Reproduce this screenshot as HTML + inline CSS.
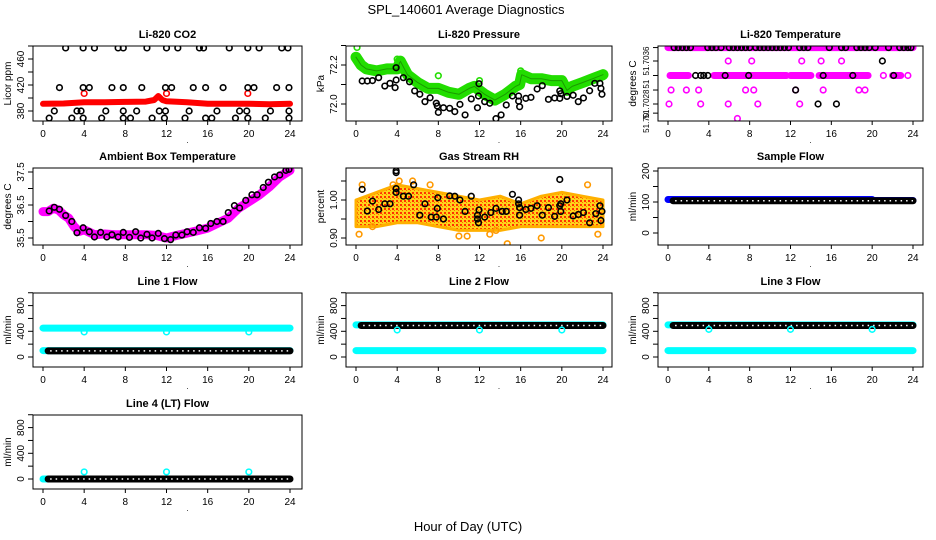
<!DOCTYPE html>
<html><head><meta charset="utf-8">
<style>
html,body{margin:0;padding:0;background:#fff;}
svg{display:block;font-family:"Liberation Sans",Arial,sans-serif;}
</style></head>
<body>
<svg id="chart" width="936" height="540" viewBox="0 0 936 540" xmlns="http://www.w3.org/2000/svg">
<defs>
<pattern id="rhpat" width="4" height="4" patternUnits="userSpaceOnUse">
<rect width="4" height="4" fill="#ffd21a"/><rect x="0" y="0" width="2" height="2" fill="#ff3300"/><rect x="2" y="2" width="1" height="1" fill="#ff6a00"/>
</pattern>
</defs>
<text x="466" y="14" font-size="13" text-anchor="middle">SPL_140601  Average Diagnostics</text>
<text x="468" y="531" font-size="13" text-anchor="middle">Hour of Day (UTC)</text>
</svg>
<script>
// ---------- data ----------
const xTicks = [0,4,8,12,16,20,24];
// CO2
const co2TopHours = [2.2,3.9,5.0,7.3,7.8,10.1,12.0,13.1,15.2,15.6,18.1,19.9,21.0,23.2,23.8];
const co2TopValue = 477;
const co2MidHours = [1.6,3.9,4.5,6.7,7.8,9.6,11.9,12.5,14.6,15.8,17.5,19.9,20.5,22.7,23.9];
const co2MidValue = 416;
const co2LowHours = [1.1,3.3,3.7,6.1,7.8,9.1,11.3,11.9,14.2,16.9,19.1,19.8,22.1,23.9];
const co2LowValue = 380;
const co2BotHours = [0.6,2.8,3.9,5.7,7.8,8.5,10.6,11.8,13.8,15.8,16.4,18.7,19.9,21.6,23.9];
const co2BotValue = 369;
const co2RedHours = [0,2,4,6,8,10,10.8,11.2,11.6,12,14,16,18,20,22,24];
const co2RedValues = [391,391.5,393.5,393.5,394,394.5,397,403,397,395,393.5,391,391,391,390.5,391];
const co2RedOutHours = [4.0,12.0,19.9];
const co2RedOutValues = [407,407,407];
// Pressure
const presGreenHours = [0,0.5,1,2,3,4,4.3,5,6,7,8,9,10,11,11.5,12,12.5,13.5,14.5,15.5,15.9,16.1,17,18,19,20,20.5,21,22,23,24];
const presGreenValues = [72.24,72.2,72.18,72.17,72.18,72.18,72.22,72.15,72.11,72.08,72.08,72.06,72.05,72.08,72.09,72.07,72.05,72.02,72.05,72.09,72.1,72.15,72.13,72.13,72.12,72.12,72.07,72.09,72.11,72.13,72.15];
const presGreenOutHours = [0.1,4.0,8.0,12.0,16.0];
const presGreenOutValues = [72.29,72.23,72.145,72.12,72.17];
const presBlackHours = [0.6,1.1,1.6,2.2,2.8,3.3,3.8,3.9,3.9,4.6,5.2,5.7,6.2,6.7,7.2,7.8,7.9,8.0,8.5,9.1,9.6,10.1,10.6,11.2,11.8,11.9,11.95,12.5,13.0,13.6,14.1,14.6,15.2,15.8,15.8,15.9,16.5,17.0,17.6,18.1,18.7,19.3,19.8,19.8,19.9,20.5,21.1,21.6,22.1,22.7,23.2,23.7,23.8,23.9];
const presBlackValues = [72.118,72.118,72.12,72.135,72.092,72.106,72.084,72.123,72.186,72.135,72.114,72.067,72.05,72.012,72.032,72.004,71.99,71.957,71.981,71.978,71.961,71.998,71.944,72.026,71.981,72.041,72.104,72.012,72.004,71.925,71.944,71.995,72.041,72.041,72.015,71.986,72.029,72.034,72.077,72.094,72.024,72.031,72.029,72.067,72.053,72.039,72.045,72.012,72.031,72.068,72.106,72.106,72.08,72.05];
// Li-820 temperature
const tempMagDenseStart = [0,0.2,4.5,12.0,14.8,22.0];
const tempMagDenseEnd   = [24,2.0,11.6,14.0,19.6,22.8];
const tempMagDenseValue = [51.70385,51.70333,51.70333,51.70333,51.70333,51.70333];
const tempMagHours = [5.9,8.2,13.1,15.0,17.0, 0.3,1.8,3.0,7.6,8.4,12.5,15.2,18.7,19.3, 0.1,3.2,5.9,8.8,12.9, 6.8, 21.1,23.5];
const tempMagValues = [51.7036,51.7036,51.7036,51.7036,51.7036, 51.70306,51.70306,51.70306,51.70306,51.70306,51.70306,51.70306,51.70306,51.70306, 51.7028,51.7028,51.7028,51.7028,51.7028, 51.70253, 51.70333,51.70333];
const tempBlackHours = [0.6,1.0,1.4,1.8,2.2,3.9,4.3,4.7,5.2,6.0,6.4,6.8,7.2,7.6,8.0,8.6,9.0,9.4,9.8,10.2,10.6,11.0,11.4,11.8,12.9,13.3,13.7,15.8,17.0,17.4,18.5,18.9,19.3,19.7,20.3,21.6,22.7,23.1,23.5,23.8, 2.7,3.2,3.5,3.9,5.6,7.9,15.2,18.1,22.1, 21.0, 12.5, 14.7,16.5];
const tempBlackValues = [51.70385,51.70385,51.70385,51.70385,51.70385,51.70385,51.70385,51.70385,51.70385,51.70385,51.70385,51.70385,51.70385,51.70385,51.70385,51.70385,51.70385,51.70385,51.70385,51.70385,51.70385,51.70385,51.70385,51.70385,51.70385,51.70385,51.70385,51.70385,51.70385,51.70385,51.70385,51.70385,51.70385,51.70385,51.70385,51.70385,51.70385,51.70385,51.70385,51.70385, 51.70333,51.70333,51.70333,51.70333,51.70333,51.70333,51.70333,51.70333,51.70333, 51.7036, 51.70306, 51.7028,51.7028];
// Ambient box temperature
const ambMagHours = [0,0.5,1,1.5,2,2.5,3,3.5,4,5,6,7,8,9,10,11,12,13,14,15,16,17,18,19,20,21,22,23,24];
const ambMagValues = [36.3,36.3,36.4,36.35,36.2,36.1,35.85,35.7,35.75,35.6,35.62,35.6,35.6,35.6,35.6,35.58,35.5,35.58,35.65,35.72,35.8,35.95,36.1,36.4,36.6,36.8,37.05,37.35,37.55];
const ambBlackHours = [0.6,1.1,1.6,2.2,2.8,3.3,3.9,4.5,5.0,5.6,6.2,6.7,7.3,7.8,8.4,9.0,9.5,10.1,10.6,11.2,11.8,12.4,12.9,13.5,14.0,14.6,15.2,15.8,16.3,16.9,17.5,18.0,18.6,19.1,19.7,20.3,20.8,21.4,21.9,22.5,23.0,23.6,23.9];
const ambBlackValues = [36.32,36.43,36.37,36.18,36.0,35.66,35.81,35.69,35.53,35.67,35.53,35.6,35.53,35.67,35.52,35.69,35.5,35.61,35.5,35.64,35.48,35.45,35.59,35.59,35.69,35.67,35.81,35.79,35.94,36.0,36.0,36.27,36.48,36.41,36.64,36.81,36.81,37.03,37.19,37.35,37.41,37.55,37.58];
// Gas stream RH
const rhBandHours = [0,2,4,6,8,10,12,14,16,18,20,22,24];
const rhBandUpper = [1.0,1.02,1.04,1.03,1.02,1.01,1.0,1.01,0.99,1.01,1.02,1.01,1.0];
const rhBandLower = [0.93,0.93,0.94,0.94,0.93,0.92,0.92,0.92,0.93,0.93,0.93,0.93,0.93];
const rhOrangeHours = [0.3,0.6,1.6,3.6,4.2,5.5,7.2,10.0,10.8,13.0,13.6,14.7,18.0,22.5,23.5];
const rhOrangeValues = [0.91,1.04,0.93,1.04,1.05,1.05,1.04,0.905,0.905,0.91,0.92,0.885,0.90,1.04,0.91];
const rhBlackHours = [0.6,1.1,1.6,2.2,2.8,3.3,3.9,3.9,3.9,3.9,4.6,5.1,5.6,6.2,6.7,7.3,7.8,7.9,7.95,8.5,9.1,9.6,10.1,10.6,11.2,11.8,11.8,11.9,11.95,12.5,13.1,13.6,14.2,14.6,15.2,15.8,15.8,15.9,15.9,16.5,17.0,17.6,18.1,18.7,19.3,19.8,19.8,19.9,19.9,20.5,21.1,21.6,22.1,22.7,23.3,23.7,23.8,23.9];
const rhBlackValues = [1.028,0.971,0.997,0.975,0.99,0.99,1.077,1.072,1.03,1.02,1.01,1.01,1.04,0.96,0.99,0.955,0.955,0.978,1.006,0.95,1.011,1.01,1.0,0.97,1.01,0.96,0.95,0.94,0.974,0.955,0.967,0.978,0.97,0.97,1.015,1.0,0.99,0.98,0.96,0.975,0.978,0.985,0.96,0.98,0.957,1.054,0.985,0.99,0.97,1.0,0.958,0.962,0.967,0.94,0.964,0.985,0.946,0.97];
// Sample flow
const sfBlueStart = [0], sfBlueEnd = [20], sfBlueValue = [108];
const sfBlue2Start = [20], sfBlue2End = [24], sfBlue2Value = [105];
const sfBlackStart = [0.5], sfBlackEnd = [24], sfBlackValue = [104];
// Line flows
const l1CyanStart = [0,0], l1CyanEnd = [24,24], l1CyanValue = [450,100];
const l1BlackStart = [0.5], l1BlackEnd = [24], l1BlackValue = [95];
const l1OutHours = [4,12,20], l1OutValues = [390,390,390];
const l2CyanStart = [0,0], l2CyanEnd = [24,24], l2CyanValue = [500,100];
const l2BlackStart = [0.5], l2BlackEnd = [24], l2BlackValue = [490];
const l2OutHours = [4,12,20], l2OutValues = [420,420,420];
const l3CyanStart = [0,0], l3CyanEnd = [24,24], l3CyanValue = [500,100];
const l3BlackStart = [0.5], l3BlackEnd = [24], l3BlackValue = [490];
const l3OutHours = [4,12,20], l3OutValues = [430,430,430];
const l4CyanStart = [0], l4CyanEnd = [0.5], l4CyanValue = [0];
const l4BlackStart = [0.5], l4BlackEnd = [24], l4BlackValue = [0];
const l4OutHours = [4,12,20], l4OutValues = [110,110,110];

// ---------- drawing ----------
const NS = 'http://www.w3.org/2000/svg';
const svg = document.getElementById('chart');
function mk(tag, attrs, parent, name) {
  const el = document.createElementNS(NS, tag);
  for (const k in attrs) el.setAttribute(k, attrs[k]);
  
  
  (parent || svg).appendChild(el);
  return el;
}
const cols = [{l:33,r:302,x0:43,x24:290},{l:346,r:612,x0:356,x24:603},{l:658,r:923,x0:668,x24:913}];
const rows = [{t:46,b:121},{t:168,b:245},{t:293,b:367},{t:415,b:489}];

function panel(key, c, r, title, ylab, v0, p0, v1, p1, yTickVals, yLabVals, yLabs, labFont) {
  const C = cols[c], R = rows[r];
  const g = mk('g', {}, svg, key + '-panel');
  const sx = h => C.x0 + (C.x24 - C.x0) * h / 24;
  const sy = v => p0 + (p1 - p0) * (v - v0) / (v1 - v0);
  const clip = mk('clipPath', {id: 'clip-' + key}, g, key + '-clip');
  mk('rect', {x: C.l, y: R.t, width: C.r - C.l, height: R.b - R.t}, clip, key + '-clip-rect');
  const plot = mk('g', {'clip-path': 'url(#clip-' + key + ')'}, g, key + '-plot-area');
  mk('rect', {x: C.l, y: R.t, width: C.r - C.l, height: R.b - R.t, fill: 'none', stroke: '#000', 'stroke-width': 1}, g, key + '-frame');
  mk('text', {x: (C.l + C.r) / 2, y: R.t - 8, 'font-size': 11, 'font-weight': 'bold', 'text-anchor': 'middle'}, g, key + '-title').textContent = title;
  xTicks.forEach(t => {
    mk('line', {x1: sx(t), x2: sx(t), y1: R.b, y2: R.b + 4, stroke: '#000'}, g, key + '-x-tick');
    mk('text', {x: sx(t), y: R.b + 16, 'font-size': 10, 'text-anchor': 'middle'}, g, key + '-x-tick-label').textContent = t;
  });
  mk('text', {x: (C.l + C.r) / 2 + 20, y: R.b + 22, 'font-size': 8, 'text-anchor': 'middle'}, g, key + '-x-label').textContent = '.';
  yTickVals.forEach(v => {
    const y = sy(v);
    if (y < R.t - 1 || y > R.b + 1) return;
    mk('line', {x1: C.l - 5, x2: C.l, y1: y, y2: y, stroke: '#000'}, g, key + '-y-tick');
  });
  const fs = labFont || 10;
  yLabVals.forEach((v, i) => {
    const y = sy(v);
    mk('text', {x: C.l - 9, y: y, 'font-size': fs, 'text-anchor': 'middle', transform: 'rotate(-90 ' + (C.l - 9) + ' ' + y + ')'}, g, key + '-y-tick-label').textContent = yLabs[i];
  });
  const ly = (R.t + R.b) / 2;
  mk('text', {x: C.l - 22, y: ly, 'font-size': 10, 'text-anchor': 'middle', transform: 'rotate(-90 ' + (C.l - 22) + ' ' + ly + ')'}, g, key + '-y-axis-title').textContent = ylab;
  return {sx, sy, plot, key};
}
function pts(P, hours, vals, color, name, r) {
  hours.forEach((h, i) => {
    mk('circle', {cx: P.sx(h), cy: P.sy(vals[i]), r: r || 2.8, fill: 'none', stroke: color, 'stroke-width': 1.6}, P.plot, P.key + '-' + name);
  });
}
function line(P, hours, vals, color, w, name) {
  const d = hours.map((h, i) => (i ? 'L' : 'M') + P.sx(h).toFixed(1) + ' ' + P.sy(vals[i]).toFixed(1)).join(' ');
  mk('path', {d: d, fill: 'none', stroke: color, 'stroke-width': w, 'stroke-linejoin': 'round', 'stroke-linecap': 'round'}, P.plot, P.key + '-' + name);
}
function dense(P, starts, ends, vals, color, name, black) {
  starts.forEach((s, i) => {
    const x1 = P.sx(s), x2 = P.sx(ends[i]), y = P.sy(vals[i]);
    mk('line', {x1: x1, x2: x2, y1: y, y2: y, stroke: color, 'stroke-width': 7, 'stroke-linecap': 'round'}, P.plot, P.key + '-' + name);
    if (black) mk('line', {x1: x1 + 2, x2: x2, y1: y, y2: y, stroke: '#fff', 'stroke-width': 1.5, 'stroke-dasharray': '1.5 4'}, P.plot, P.key + '-' + name + '-texture');
  });
}

// CO2
let P = panel('co2', 0, 0, 'Li-820 CO2', 'Licor ppm', 380, 111, 460, 59, [360,380,400,420,440,460,480], [380,420,460], ['380','420','460']);
line(P, co2RedHours, co2RedValues, '#ff0000', 6, 'red-series');
pts(P, co2RedOutHours, co2RedOutValues, '#ff0000', 'red-outlier');
pts(P, co2TopHours, co2TopHours.map(() => co2TopValue), '#000', 'black-point-top');
pts(P, co2MidHours, co2MidHours.map(() => co2MidValue), '#000', 'black-point-mid');
pts(P, co2LowHours, co2LowHours.map(() => co2LowValue), '#000', 'black-point-low');
pts(P, co2BotHours, co2BotHours.map(() => co2BotValue), '#000', 'black-point-bottom');

// Pressure
P = panel('pressure', 1, 0, 'Li-820 Pressure', 'kPa', 72.0, 104, 72.2, 65, [71.9,72.0,72.1,72.2,72.3], [72.0,72.2], ['72.0','72.2']);
line(P, presGreenHours, presGreenValues, '#22dd00', 11, 'green-band');
line(P, presGreenHours, presGreenValues, '#1a9a00', 1, 'green-band-texture');
pts(P, presGreenOutHours, presGreenOutValues, '#22dd00', 'green-outlier');
pts(P, presBlackHours, presBlackValues, '#000', 'black-point');

// Li-820 temperature
P = panel('licor-temp', 2, 0, 'Li-820 Temperature', 'degrees C', 51.7036, 61, 51.7028, 104, [51.70385,51.7036,51.70333,51.70306,51.7028,51.70263], [51.7036,51.70317,51.7028,51.70245], ['51.7036','51','51.7028','51.70'], 8);
dense(P, tempMagDenseStart, tempMagDenseEnd, tempMagDenseValue, '#ff00ff', 'magenta-dense', false);
pts(P, tempMagHours, tempMagValues, '#ff00ff', 'magenta-point');
pts(P, tempBlackHours, tempBlackValues, '#000', 'black-point');

// Ambient box temperature
P = panel('ambient-temp', 0, 1, 'Ambient Box Temperature', 'degrees C', 35.5, 238, 37.5, 172, [35.5,36,36.5,37,37.5], [35.5,36.5,37.5], ['35.5','36.5','37.5']);
line(P, ambMagHours, ambMagValues, '#ff00ff', 9, 'magenta-band');
pts(P, ambBlackHours, ambBlackValues, '#000', 'black-point');

// Gas stream RH
P = panel('rh', 1, 1, 'Gas Stream RH', 'percent', 1.0, 200, 0.9, 238, [0.9,0.95,1.0,1.05], [0.9,1.0], ['0.90','1.00']);
(function(){
  const up = rhBandHours.map((h, i) => P.sx(h).toFixed(1) + ',' + P.sy(rhBandUpper[i]).toFixed(1));
  const lo = rhBandHours.map((h, i) => P.sx(h).toFixed(1) + ',' + P.sy(rhBandLower[i]).toFixed(1)).reverse();
  mk('polygon', {points: up.concat(lo).join(' '), fill: 'url(#rhpat)', stroke: '#ffb000', 'stroke-width': 3, 'stroke-linejoin': 'round'}, P.plot, 'rh-orange-cloud');
})();
pts(P, rhOrangeHours, rhOrangeValues, '#ff9900', 'orange-point');
pts(P, rhBlackHours, rhBlackValues, '#000', 'black-point');

// Sample flow
P = panel('sample-flow', 2, 1, 'Sample Flow', 'ml/min', 0, 233, 200, 171, [0,50,100,150,200], [0,100,200], ['0','100','200']);
dense(P, sfBlueStart, sfBlueEnd, sfBlueValue, '#0000ff', 'blue-band', false);
dense(P, sfBlue2Start, sfBlue2End, sfBlue2Value, '#0000ff', 'blue-band-late', false);
dense(P, sfBlackStart, sfBlackEnd, sfBlackValue, '#000', 'black-dense', true);

// Line flows
const flowTicks = [0,200,400,600,800,1000];
function flowPanel(key, c, r, title, cs, ce, cv, bs, be, bv, oh, ov) {
  const Q = panel(key, c, r, title, 'ml/min', 0, rows[r].b - 10, 800, rows[r].b - 10 - 51.4, flowTicks, [0,400,800], ['0','400','800']);
  dense(Q, cs, ce, cv, '#00ffff', 'cyan-band', false);
  dense(Q, bs, be, bv, '#000', 'black-dense', true);
  pts(Q, oh, ov, '#00ffff', 'cyan-outlier');
}
flowPanel('line1-flow', 0, 2, 'Line 1 Flow', l1CyanStart, l1CyanEnd, l1CyanValue, l1BlackStart, l1BlackEnd, l1BlackValue, l1OutHours, l1OutValues);
flowPanel('line2-flow', 1, 2, 'Line 2 Flow', l2CyanStart, l2CyanEnd, l2CyanValue, l2BlackStart, l2BlackEnd, l2BlackValue, l2OutHours, l2OutValues);
flowPanel('line3-flow', 2, 2, 'Line 3 Flow', l3CyanStart, l3CyanEnd, l3CyanValue, l3BlackStart, l3BlackEnd, l3BlackValue, l3OutHours, l3OutValues);
flowPanel('line4-flow', 0, 3, 'Line 4 (LT) Flow', l4CyanStart, l4CyanEnd, l4CyanValue, l4BlackStart, l4BlackEnd, l4BlackValue, l4OutHours, l4OutValues);
</script>
</body></html>
